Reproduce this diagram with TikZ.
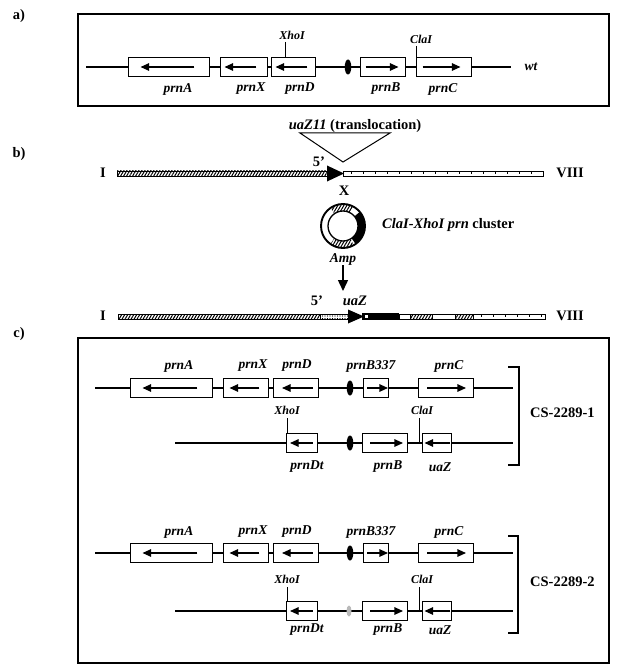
\documentclass[tikz,border=0pt]{standalone}
\usepackage{fontspec}
\setmainfont{Liberation Serif}
\usetikzlibrary{shapes.geometric,arrows.meta,patterns.meta}

\begin{document}
\begin{tikzpicture}[x=1pt,y=-1pt,
  gene/.style={draw,fill=white,line width=0.9pt,minimum height=19pt,inner sep=0pt},
  garr/.style={line width=1.1pt,-{Triangle[length=8.5pt,width=7.5pt]}},
  darr/.style={line width=1.4pt,-{Triangle[length=11pt,width=10pt]}},
  dna/.style={line width=2pt},
  oval/.style={ellipse,fill=black,minimum width=6.5pt,minimum height=15pt,inner sep=0pt},
  lab/.style={font=\fontsize{13.5}{15}\selectfont\bfseries\itshape,inner sep=0pt},
  site/.style={font=\fontsize{12}{13}\selectfont\bfseries\itshape,inner sep=0pt},
  big/.style={font=\fontsize{14.5}{16}\selectfont\bfseries,inner sep=0pt},
  tick/.style={line width=0.9pt},
  brk/.style={line width=2pt},
  hatch/.style={draw,line width=0.7pt,pattern={Lines[angle=60,distance=2.6pt,line width=1pt]}},
  bar/.style={draw,line width=0.8pt,fill=white},
  frame/.style={draw,line width=1.1pt}]
\useasboundingbox (0,0) rectangle (616,671);

% ---------- a) wild type ----------
\node[big] (pa) at (19,16) {a)};
\draw[frame] (78,14) rectangle (609,106);
\coordinate (a0) at (86,67);
\coordinate (a9) at (511,67);
\draw[dna] (a0) -- (a9);
\node[gene,minimum width=81pt] (aA) at (168.5,67) {};
\node[gene,minimum width=47pt] (aX) at (243.5,67) {};
\node[gene,minimum width=44pt] (aD) at (293,67) {};
\node[oval] (ao) at (348,67) {};
\node[gene,minimum width=45pt] (aB) at (382.5,67) {};
\node[gene,minimum width=55pt] (aC) at (443.5,67) {};
\draw[garr] ([xshift=-15pt]aA.east) -- ([xshift=13pt]aA.west);
\draw[garr] ([xshift=-11pt]aX.east) -- ([xshift=5pt]aX.west);
\draw[garr] ([xshift=-8pt]aD.east) -- ([xshift=5pt]aD.west);
\draw[garr] ([xshift=6pt]aB.west) -- ([xshift=-7pt]aB.east);
\draw[garr] ([xshift=7pt]aC.west) -- ([xshift=-11pt]aC.east);
\node[lab] (aAl) at (178,89) {prnA};
\node[lab] (aXl) at (251,89) {prnX};
\node[lab] (aDl) at (300,89) {prnD};
\node[lab] (aBl) at (386,89) {prnB};
\node[lab] (aCl) at (443,89) {prnC};
\node[lab] (awt) at (531,67) {wt};
\node[site] (aXho) at (292,35) {XhoI};
\node[site] (aCla) at (421,39) {ClaI};
\coordinate (aXt) at (285,42);
\coordinate (aCt) at (416,46);
\draw[tick] (aXt) -- (aXt |- aD.north);
\draw[tick] (aCt) -- (aCt |- a0);

% ---------- b) translocation ----------
\node[big] (pb) at (19,154) {b)};
\coordinate (tl) at (300,133);
\coordinate (tr) at (390,133);
\coordinate (tv) at (343,162);
\draw[line width=1pt] (tl) -- (tv) -- (tr) -- cycle;
\node[big] (trl) at (355,126) {\textit{uaZ11} (translocation)};
\draw[hatch] (117,171) rectangle (327,176);
\draw[bar] (343,171) rectangle (543,176);
\foreach \x in {351,363,...,540}
  \draw[line width=0.7pt] (\x,171) -- (\x,173.5);
\fill (327,165.5) -- (344,173.5) -- (327,181.5) -- cycle;
\node[big] (bI) at (103,173) {I};
\node[big] (bVIII) at (570,173) {VIII};
\node[big] (b5) at (319,162) {5'};
\node[big] (bx) at (344,191) {X};

% plasmid
\begin{scope}[shift={(343,226)},x=1pt,y=1pt]
  \fill[white] (0,0) circle (22);
  \fill[pattern={Lines[angle=60,distance=2.6pt,line width=1pt]}]
    (60:22) arc[start angle=60,end angle=125,radius=22] -- (125:15)
    arc[start angle=125,end angle=60,radius=15] -- cycle;
  \fill[pattern={Lines[angle=60,distance=2.6pt,line width=1pt]}]
    (235:22) arc[start angle=235,end angle=300,radius=22] -- (300:15)
    arc[start angle=300,end angle=235,radius=15] -- cycle;
  \fill (40:22) arc[start angle=40,end angle=-55,radius=22] -- (-55:15)
    arc[start angle=-55,end angle=40,radius=15] -- cycle;
  \draw[line width=1.9pt] (0,0) circle (22);
  \draw[line width=1.3pt] (0,0) circle (15);
\end{scope}
\node[big,anchor=west] (clus) at (382,225) {\textit{ClaI-XhoI prn} cluster};
\node[lab] (amp) at (343,259) {Amp};
\coordinate (uazin) at (343,291);
\draw[darr] (amp) -- (uazin);

% ---------- integrated chromosome ----------
\node[big] (pc) at (19,334) {c)};
\draw[hatch] (118,314) rectangle (320,319);
\draw[line width=0.7pt,pattern={Dots[distance=2.5pt,radius=0.55pt]}] (320,314) rectangle (348,319);
\fill (362,313) rectangle (399,320);
\fill[white] (365,315) rectangle (368,318);
\draw[bar] (399,314) rectangle (410,319);
\draw[hatch] (410,314) rectangle (432,319);
\draw[bar] (432,314) rectangle (455,319);
\draw[hatch] (455,314) rectangle (473,319);
\draw[bar] (473,314) rectangle (545,319);
\foreach \x in {481,493,...,542}
  \draw[line width=0.7pt] (\x,314) -- (\x,316.5);
\fill (348,309.5) -- (364,316.5) -- (348,323.5) -- cycle;
\node[big] (cI) at (103,316) {I};
\node[big] (cVIII) at (570,316) {VIII};
\node[big] (c5) at (317,301) {5'};
\node[big] (cuaz) at (355,301) {\itshape uaZ};

\draw[frame] (78,338) rectangle (609,663);

% CS-2289-1, upper copy
\coordinate (r1u0) at (95,388);
\coordinate (r1u9) at (513,388);
\draw[dna] (r1u0) -- (r1u9);
\node[gene,minimum width=82pt] (r1A) at (171,388) {};
\node[gene,minimum width=45pt] (r1X) at (245.5,388) {};
\node[gene,minimum width=45pt] (r1D) at (296,388) {};
\node[oval] (r1o) at (350,388) {};
\node[gene,minimum width=25pt] (r1B) at (376,388) {};
\node[gene,minimum width=55pt] (r1C) at (446,388) {};
\draw[garr] ([xshift=-15pt]r1A.east) -- ([xshift=13pt]r1A.west);
\draw[garr] ([xshift=-9pt]r1X.east) -- ([xshift=7pt]r1X.west);
\draw[garr] ([xshift=-6pt]r1D.east) -- ([xshift=9pt]r1D.west);
\draw[garr] ([xshift=4pt]r1B.west) -- ([xshift=-1pt]r1B.east);
\draw[garr] ([xshift=9pt]r1C.west) -- ([xshift=-8pt]r1C.east);
\node[lab] (r1Al) at (179,366) {prnA};
\node[lab] (r1Xl) at (253,366) {prnX};
\node[lab] (r1Dl) at (297,366) {prnD};
\node[lab] (r1Bl) at (371,366) {prnB337};
\node[lab] (r1Cl) at (449,366) {prnC};
% CS-2289-1, lower copy
\coordinate (r1l0) at (175,443);
\coordinate (r1l9) at (513,443);
\draw[dna] (r1l0) -- (r1l9);
\node[gene,minimum width=31pt] (r1Dt) at (302,443) {};
\node[oval] (r1p) at (350,443) {};
\node[gene,minimum width=45pt] (r1Bw) at (385,443) {};
\node[gene,minimum width=29pt] (r1Z) at (437,443) {};
\draw[garr] ([xshift=-5pt]r1Dt.east) -- ([xshift=4pt]r1Dt.west);
\draw[garr] ([xshift=8pt]r1Bw.west) -- ([xshift=-5pt]r1Bw.east);
\draw[garr] ([xshift=-1.5pt]r1Z.east) -- ([xshift=2.5pt]r1Z.west);
\node[site] (r1Xho) at (287,410) {XhoI};
\node[site] (r1Cla) at (422,410) {ClaI};
\coordinate (r1xt) at (287,418);
\coordinate (r1ct) at (419.5,418);
\draw[tick] (r1xt) -- (r1xt |- r1Dt.north);
\draw[tick] (r1ct) -- (r1ct |- r1l0);
\node[lab] (r1Dtl) at (307,467) {prnDt};
\node[lab] (r1Bwl) at (388,467) {prnB};
\node[lab] (r1Zl) at (440,467) {uaZ};
\draw[brk] (508,367) -- (519,367) -- (519,465) -- (508,465);
\node[big,anchor=west] (r1cs) at (530,413) {CS-2289-1};

% CS-2289-2, upper copy
\coordinate (r2u0) at (95,553);
\coordinate (r2u9) at (513,553);
\draw[dna] (r2u0) -- (r2u9);
\node[gene,minimum width=82pt] (r2A) at (171,553) {};
\node[gene,minimum width=45pt] (r2X) at (245.5,553) {};
\node[gene,minimum width=45pt] (r2D) at (296,553) {};
\node[oval] (r2o) at (350,553) {};
\node[gene,minimum width=25pt] (r2B) at (376,553) {};
\node[gene,minimum width=55pt] (r2C) at (446,553) {};
\draw[garr] ([xshift=-15pt]r2A.east) -- ([xshift=13pt]r2A.west);
\draw[garr] ([xshift=-9pt]r2X.east) -- ([xshift=7pt]r2X.west);
\draw[garr] ([xshift=-6pt]r2D.east) -- ([xshift=9pt]r2D.west);
\draw[garr] ([xshift=4pt]r2B.west) -- ([xshift=-1pt]r2B.east);
\draw[garr] ([xshift=9pt]r2C.west) -- ([xshift=-8pt]r2C.east);
\node[lab] (r2Al) at (179,532) {prnA};
\node[lab] (r2Xl) at (253,532) {prnX};
\node[lab] (r2Dl) at (297,532) {prnD};
\node[lab] (r2Bl) at (371,532) {prnB337};
\node[lab] (r2Cl) at (449,532) {prnC};
% CS-2289-2, lower copy
\coordinate (r2l0) at (175,611);
\coordinate (r2l9) at (513,611);
\draw[dna] (r2l0) -- (r2l9);
\node[gene,minimum width=31pt] (r2Dt) at (302,611) {};
\node[oval,fill=gray!55,minimum width=5pt,minimum height=11pt] (r2p) at (349,611) {};
\node[gene,minimum width=45pt] (r2Bw) at (385,611) {};
\node[gene,minimum width=29pt] (r2Z) at (437,611) {};
\draw[garr] ([xshift=-5pt]r2Dt.east) -- ([xshift=4pt]r2Dt.west);
\draw[garr] ([xshift=8pt]r2Bw.west) -- ([xshift=-5pt]r2Bw.east);
\draw[garr] ([xshift=-1.5pt]r2Z.east) -- ([xshift=2.5pt]r2Z.west);
\node[site] (r2Xho) at (287,579) {XhoI};
\node[site] (r2Cla) at (422,579) {ClaI};
\coordinate (r2xt) at (287,587);
\coordinate (r2ct) at (419.5,587);
\draw[tick] (r2xt) -- (r2xt |- r2Dt.north);
\draw[tick] (r2ct) -- (r2ct |- r2l0);
\node[lab] (r2Dtl) at (307,630) {prnDt};
\node[lab] (r2Bwl) at (388,630) {prnB};
\node[lab] (r2Zl) at (440,630) {uaZ};
\draw[brk] (508,536) -- (518,536) -- (518,633) -- (508,633);
\node[big,anchor=west] (r2cs) at (530,582) {CS-2289-2};
\end{tikzpicture}
\end{document}
